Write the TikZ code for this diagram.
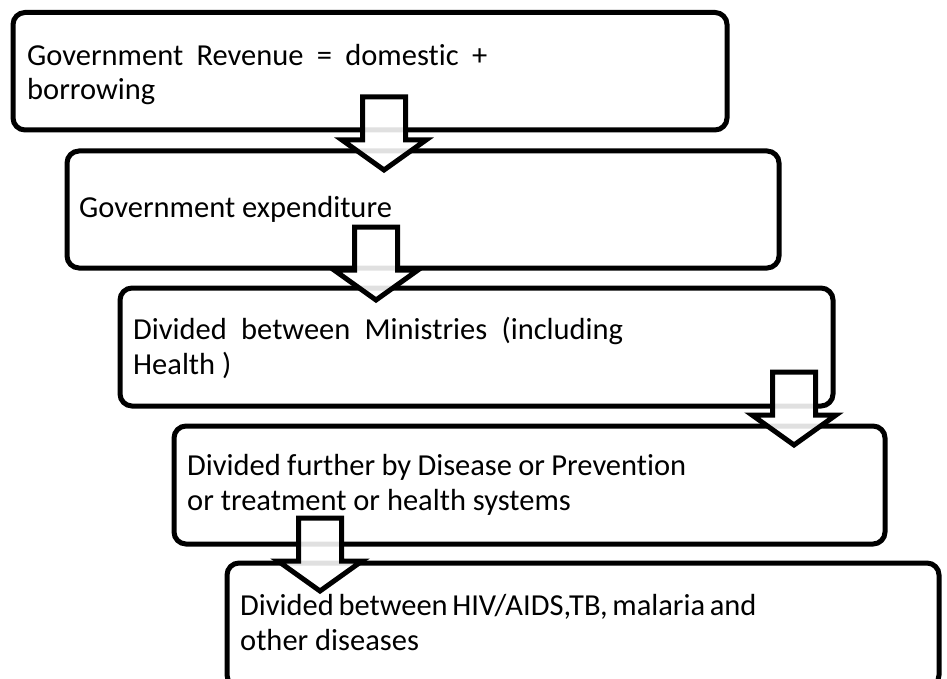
\documentclass[tikz,border=0pt]{standalone}
\usepackage{fontspec}
\setmainfont{Carlito}[Ligatures={NoCommon}]
\begin{document}
\begin{tikzpicture}[x=1pt,y=-1pt,
  box/.style={draw=black,line width=5pt,rounded corners=12pt,fill=white,
    inner sep=0pt,outer sep=0pt},
  boxtext/.style={anchor=base west,inner sep=0pt,align=left,
    font=\fontsize{30.5}{34.5}\selectfont},
  blockarrow/.style={draw=black,line width=5pt,fill=white,fill opacity=0.88,
    line join=miter,miter limit=10}]
\useasboundingbox (0,0) rectangle (947,679);
\clip (0,0) rectangle (947,679);

% the five stages, each shifted right of the one above
\node[box,minimum width=714pt,minimum height=117.5pt] (b1) at (370,71.25) {};
\node[box,minimum width=712pt,minimum height=117pt] (b2) at (423,209.5) {};
\node[box,minimum width=713pt,minimum height=118pt] (b3) at (476.5,347) {};
\node[box,minimum width=711pt,minimum height=118pt] (b4) at (529.5,485) {};
\node[box,minimum width=712pt,minimum height=124pt] (b5) at (583,625) {};

% first lines are set to a fixed measure, as in a justified paragraph
\node[boxtext] (t1) at (27,100)
  {\makebox[460pt][s]{Government Revenue = domestic +}\\borrowing};
\node[boxtext] (t2) at (79,218) {Government expenditure};
\node[boxtext] (t3) at (133,374)
  {\makebox[490pt][s]{Divided between Ministries (including}\\Health )};
\node[boxtext] (t4) at (187,510)
  {\makebox[499pt][s]{Divided further by Disease or Prevention}\\or treatment or health systems};
\node[boxtext] (t5) at (240,650)
  {\makebox[516pt][s]{Divided between HIV/AIDS,TB, malaria and}\\other diseases};

% hollow block arrows laid over the box borders
\foreach \cx/\ty in {384/97, 376/227, 794/372, 320/518}{
  \draw[blockarrow]
    (\cx-21.5,\ty) -- (\cx+21.5,\ty) -- (\cx+21.5,\ty+43) -- (\cx+42,\ty+43)
    -- (\cx,\ty+73) -- (\cx-42,\ty+43) -- (\cx-21.5,\ty+43) -- cycle;
}
\end{tikzpicture}
\end{document}
